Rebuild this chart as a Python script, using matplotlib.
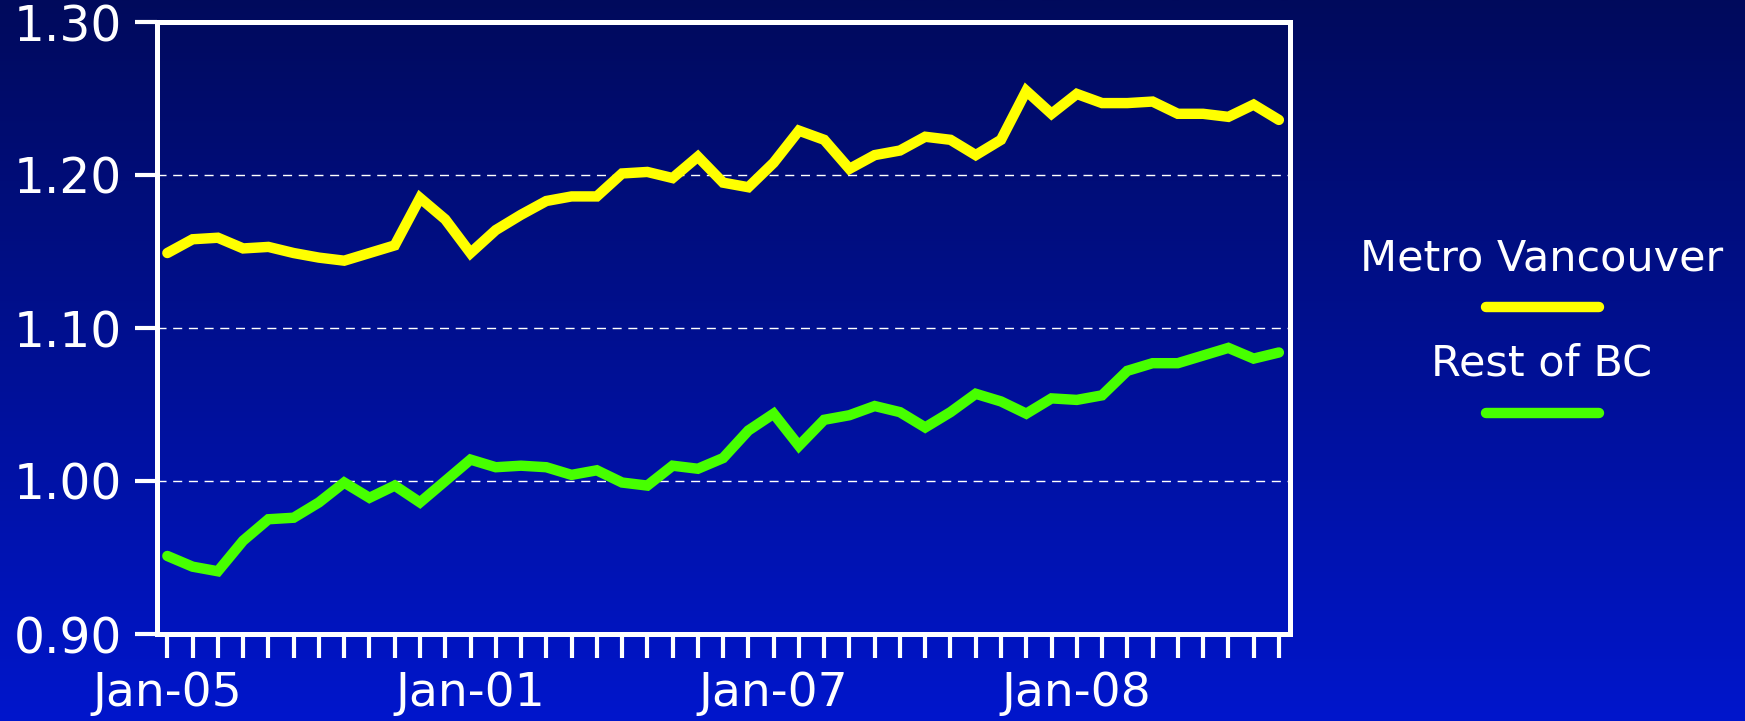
import numpy as np
import matplotlib
matplotlib.use('Agg')
import matplotlib.pyplot as plt
from matplotlib.colors import LinearSegmentedColormap
from matplotlib.lines import Line2D

plt.rcParams['font.family'] = ['DejaVu Sans']

# ── data: monthly index, 45 months ─────────────────────────────────────
metro_vancouver = [1.149, 1.158, 1.159, 1.152, 1.153, 1.149, 1.146, 1.144, 1.149, 1.154,
                   1.185, 1.171, 1.149, 1.164, 1.174, 1.183, 1.186, 1.186, 1.201, 1.202,
                   1.198, 1.212, 1.195, 1.192, 1.208, 1.229, 1.223, 1.204, 1.213, 1.216,
                   1.225, 1.223, 1.213, 1.223, 1.255, 1.240, 1.253, 1.247, 1.247, 1.248,
                   1.240, 1.240, 1.238, 1.246, 1.236]
rest_of_bc = [0.951, 0.944, 0.941, 0.961, 0.975, 0.976, 0.986, 0.999, 0.989, 0.997,
              0.986, 1.000, 1.014, 1.009, 1.010, 1.009, 1.004, 1.007, 0.999, 0.997,
              1.010, 1.008, 1.015, 1.033, 1.044, 1.023, 1.040, 1.043, 1.049, 1.045,
              1.035, 1.045, 1.057, 1.052, 1.044, 1.054, 1.053, 1.056, 1.072, 1.077,
              1.077, 1.082, 1.087, 1.080, 1.084]
x_labels = {0: 'Jan-05', 12: 'Jan-01', 24: 'Jan-07', 36: 'Jan-08'}
y_ticks = [0.90, 1.00, 1.10, 1.20, 1.30]

YELLOW = '#FFFF00'
GREEN = '#47FF00'

fig = plt.figure(figsize=(17.45, 7.21), dpi=100)

# background gradient
bg = fig.add_axes([0, 0, 1, 1], zorder=-10)
cmap_bg = LinearSegmentedColormap.from_list('bg', ['#000A5C', '#0016CC'])
bg.imshow(np.linspace(0, 1, 256).reshape(-1, 1), cmap=cmap_bg, aspect='auto',
          extent=[0, 1, 0, 1])
bg.set_axis_off()

ax = fig.add_axes([157/1745, 1 - 634/721, (1290 - 157)/1745, (634 - 22)/721])
ax.set_facecolor('none')

x = np.arange(len(metro_vancouver))
ax.plot(x, metro_vancouver, color=YELLOW, lw=7.5, solid_capstyle='round',
        solid_joinstyle='miter', zorder=3)
ax.plot(x, rest_of_bc, color=GREEN, lw=7.5, solid_capstyle='round',
        solid_joinstyle='miter', zorder=3)

ax.set_xlim(-0.41, len(x) - 1 + 0.44)
ax.set_ylim(0.90, 1.30)
ax.set_yticks(y_ticks)
ax.set_yticklabels([f'{v:.2f}' for v in y_ticks])
ax.set_xticks(x)
ax.set_xticklabels([x_labels.get(i, '') for i in x])

for s in ax.spines.values():
    s.set_color('white')
    s.set_linewidth(3.6)

ax.tick_params(axis='y', direction='out', length=16, width=3, color='white',
               labelcolor='white', labelsize=35, pad=9)
ax.tick_params(axis='x', direction='out', length=17, width=3, color='white',
               labelcolor='white', labelsize=34, pad=10)

ax.yaxis.grid(True, color='white', lw=1.0, linestyle=(0, (6.5, 4.8)))
ax.set_axisbelow(True)

# legend: label above a line sample
LX = 1542 / 1745
fig.text(LX, 1 - 258/721, 'Metro Vancouver', color='white', fontsize=31,
         ha='center', va='center')
fig.add_artist(Line2D([1486/1745, 1599/1745], [1 - 307/721] * 2, color=YELLOW,
                      lw=7.5, solid_capstyle='round'))
fig.text(LX, 1 - 364/721, 'Rest of BC', color='white', fontsize=31,
         ha='center', va='center')
fig.add_artist(Line2D([1486/1745, 1599/1745], [1 - 413/721] * 2, color=GREEN,
                      lw=7.5, solid_capstyle='round'))

fig.savefig('out.png', dpi=100)
